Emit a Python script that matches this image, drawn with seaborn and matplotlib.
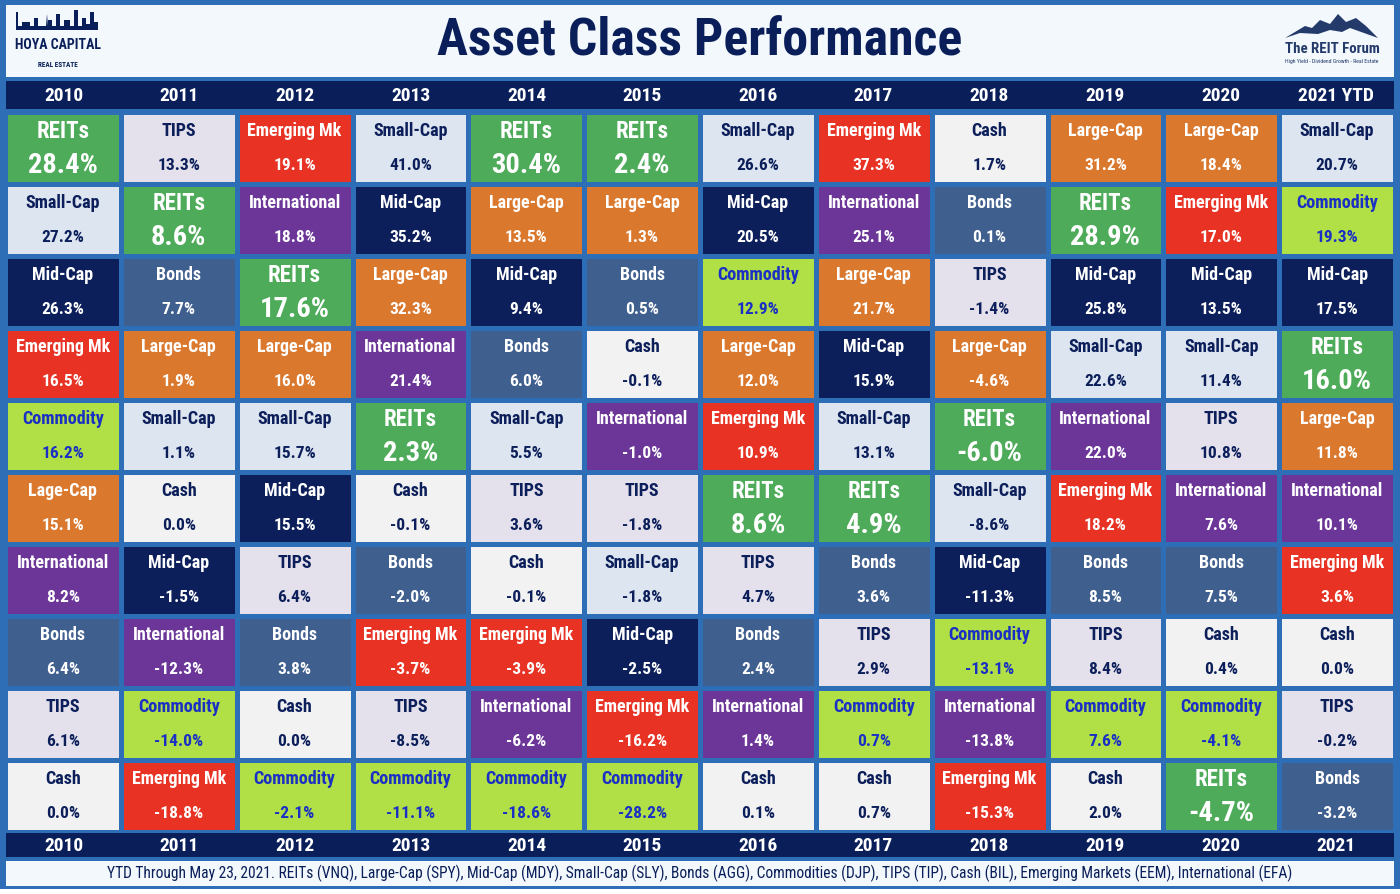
import numpy as np
import pandas as pd
import matplotlib
matplotlib.use("Agg")
import matplotlib.pyplot as plt
from matplotlib.colors import ListedColormap
from matplotlib import font_manager
import seaborn as sns

# ---------------- data ----------------
years = ["2010", "2011", "2012", "2013", "2014", "2015",
         "2016", "2017", "2018", "2019", "2020", "2021 YTD"]
footer_years = ["2010", "2011", "2012", "2013", "2014", "2015",
                "2016", "2017", "2018", "2019", "2020", "2021"]

assets_by_year = [
    ["REITs", "Small-Cap", "Mid-Cap", "Emerging Mk", "Commodity", "Lage-Cap", "International", "Bonds", "TIPS", "Cash"],
    ["TIPS", "REITs", "Bonds", "Large-Cap", "Small-Cap", "Cash", "Mid-Cap", "International", "Commodity", "Emerging Mk"],
    ["Emerging Mk", "International", "REITs", "Large-Cap", "Small-Cap", "Mid-Cap", "TIPS", "Bonds", "Cash", "Commodity"],
    ["Small-Cap", "Mid-Cap", "Large-Cap", "International", "REITs", "Cash", "Bonds", "Emerging Mk", "TIPS", "Commodity"],
    ["REITs", "Large-Cap", "Mid-Cap", "Bonds", "Small-Cap", "TIPS", "Cash", "Emerging Mk", "International", "Commodity"],
    ["REITs", "Large-Cap", "Bonds", "Cash", "International", "TIPS", "Small-Cap", "Mid-Cap", "Emerging Mk", "Commodity"],
    ["Small-Cap", "Mid-Cap", "Commodity", "Large-Cap", "Emerging Mk", "REITs", "TIPS", "Bonds", "International", "Cash"],
    ["Emerging Mk", "International", "Large-Cap", "Mid-Cap", "Small-Cap", "REITs", "Bonds", "TIPS", "Commodity", "Cash"],
    ["Cash", "Bonds", "TIPS", "Large-Cap", "REITs", "Small-Cap", "Mid-Cap", "Commodity", "International", "Emerging Mk"],
    ["Large-Cap", "REITs", "Mid-Cap", "Small-Cap", "International", "Emerging Mk", "Bonds", "TIPS", "Commodity", "Cash"],
    ["Large-Cap", "Emerging Mk", "Mid-Cap", "Small-Cap", "TIPS", "International", "Bonds", "Cash", "Commodity", "REITs"],
    ["Small-Cap", "Commodity", "Mid-Cap", "REITs", "Large-Cap", "International", "Emerging Mk", "Cash", "TIPS", "Bonds"],
]
returns_by_year = [
    [28.4, 27.2, 26.3, 16.5, 16.2, 15.1, 8.2, 6.4, 6.1, 0.0],
    [13.3, 8.6, 7.7, 1.9, 1.1, 0.0, -1.5, -12.3, -14.0, -18.8],
    [19.1, 18.8, 17.6, 16.0, 15.7, 15.5, 6.4, 3.8, 0.0, -2.1],
    [41.0, 35.2, 32.3, 21.4, 2.3, -0.1, -2.0, -3.7, -8.5, -11.1],
    [30.4, 13.5, 9.4, 6.0, 5.5, 3.6, -0.1, -3.9, -6.2, -18.6],
    [2.4, 1.3, 0.5, -0.1, -1.0, -1.8, -1.8, -2.5, -16.2, -28.2],
    [26.6, 20.5, 12.9, 12.0, 10.9, 8.6, 4.7, 2.4, 1.4, 0.1],
    [37.3, 25.1, 21.7, 15.9, 13.1, 4.9, 3.6, 2.9, 0.7, 0.7],
    [1.7, 0.1, -1.4, -4.6, -6.0, -8.6, -11.3, -13.1, -13.8, -15.3],
    [31.2, 28.9, 25.8, 22.6, 22.0, 18.2, 8.5, 8.4, 7.6, 2.0],
    [18.4, 17.0, 13.5, 11.4, 10.8, 7.6, 7.5, 0.4, -4.1, -4.7],
    [20.7, 19.3, 17.5, 16.0, 11.8, 10.1, 3.6, 0.0, -0.2, -3.2],
]

asset_classes = ["REITs", "Large-Cap", "Mid-Cap", "Small-Cap", "Emerging Mk",
                 "International", "Bonds", "TIPS", "Cash", "Commodity"]
fill_colors = ["#4EAB5A", "#DA782E", "#0C1F5A", "#DDE5F0", "#E73224",
               "#6B3698", "#3F5F8E", "#E4E1EC", "#F2F2F2", "#B1E046"]
text_colors = ["white", "white", "white", "#0C1F5A", "white",
               "white", "white", "#0C1F5A", "#0C1F5A", "#1A2FC4"]
label_aliases = {"Lage-Cap": "Large-Cap"}

title = "Asset Class Performance"
note = ("YTD Through May 23, 2021. REITs (VNQ), Large-Cap (SPY), Mid-Cap (MDY), "
        "Small-Cap (SLY), Bonds (AGG), Commodities (DJP), TIPS (TIP), Cash (BIL), "
        "Emerging Markets (EEM), International (EFA)")

# ---------------- style ----------------
BORDER = "#2E6EB6"
NAVY = "#0A1F5A"
PANEL = "#F3F8FC"

sns.set_theme(style="white")

# choose a condensed font if one is installed
ttf = font_manager.fontManager.ttflist
names = {f.name for f in ttf}
FAMILY, STRETCH = None, "normal"
for cand in ["Roboto Condensed", "Liberation Sans Narrow", "Open Sans Condensed",
             "Noto Sans Condensed", "DejaVu Sans Condensed", "Noto Sans Display Condensed"]:
    if cand in names:
        FAMILY = cand
        break
if FAMILY is None:
    for f in ttf:
        if "Condensed" in f.name or "Narrow" in f.name:
            FAMILY = f.name
            break
if FAMILY is None:
    for f in ttf:
        if f.stretch in ("condensed", "semi-condensed", "extra-condensed") and \
                f.name in ("DejaVu Sans", "Noto Sans", "Roboto", "Open Sans", "Lato"):
            FAMILY, STRETCH = f.name, "condensed"
            break
if FAMILY is None:
    FAMILY = "Roboto" if "Roboto" in names else "DejaVu Sans"
plt.rcParams["font.family"] = [FAMILY, "DejaVu Sans"]
plt.rcParams["font.stretch"] = STRETCH

W, H = 1400, 894
fig = plt.figure(figsize=(W / 100, H / 100), dpi=100)
fig.patch.set_facecolor(BORDER)


def add_box(x0, y0, x1, y1, color=None):
    ax = fig.add_axes([x0 / W, 1 - y1 / H, (x1 - x0) / W, (y1 - y0) / H])
    ax.set_xlim(x0, x1)
    ax.set_ylim(y1, y0)
    ax.set_xticks([])
    ax.set_yticks([])
    for s in ax.spines.values():
        s.set_visible(False)
    if color is None:
        ax.patch.set_alpha(0)
    else:
        ax.set_facecolor(color)
    return ax


fits = []  # (text, target width px, exact?)

# title panel
ax_t = add_box(6, 5, 1394, 77, PANEL)
t = ax_t.text(700, 41, title, ha="center", va="center", fontsize=37,
              fontweight="bold", color=NAVY)
fits.append((t, 526, True))

# left logo: skyline + text
sky_x = [16, 16, 18, 18, 22, 22, 30, 30, 34, 34, 38, 38, 46, 47, 48, 48, 52, 52,
         56, 56, 60, 60, 64, 64, 70, 70, 74, 74, 78, 78, 82, 82, 86, 86, 90, 90, 94, 94, 98, 98]
sky_y = [30, 12, 12, 26, 26, 22, 22, 26, 26, 18, 18, 26, 26, 14, 26, 20, 20, 26,
         26, 14, 14, 26, 26, 20, 20, 26, 26, 10, 10, 26, 26, 18, 18, 24, 24, 12, 12, 22, 22, 30]
ax_t.fill(sky_x, sky_y, color=NAVY, lw=0)
t = ax_t.text(58, 45, "HOYA CAPITAL", ha="center", va="center", fontsize=20,
              fontweight="bold", color=NAVY)
fits.append((t, 86, True))
t = ax_t.text(58, 65, "REAL ESTATE", ha="center", va="center", fontsize=8,
              fontweight="bold", color=NAVY)
fits.append((t, 40, True))

# right logo: mountain + text
mx = [1285, 1305, 1312, 1320, 1330, 1338, 1346, 1356, 1366, 1378, 1350, 1342, 1330, 1318, 1300]
my = [38, 26, 28, 20, 24, 14, 22, 18, 26, 38, 28, 32, 30, 34, 33]
ax_t.fill(mx, my, color="#233A6B", lw=0)
t = ax_t.text(1332, 49, "The REIT Forum", ha="center", va="center", fontsize=12,
              fontweight="bold", color="#233A6B")
fits.append((t, 95, True))
t = ax_t.text(1332, 62, "High Yield - Dividend Growth - Real Estate", ha="center",
              va="center", fontsize=5, color="#233A6B")
fits.append((t, 95, True))

# header band
ax_h = add_box(6, 81, 1394, 109, NAVY)
ax_h.set_xlim(0, len(years))
for i, y in enumerate(years):
    ax_h.text(i + 0.5, 96, y, ha="center", va="center", fontsize=14,
              fontweight="bold", color="white")

# footer band
ax_f = add_box(6, 833, 1394, 857, NAVY)
ax_f.set_xlim(0, len(footer_years))
for i, y in enumerate(footer_years):
    ax_f.text(i + 0.5, 846, y, ha="center", va="center", fontsize=14,
              fontweight="bold", color="white")

# note panel
ax_n = add_box(6, 861, 1394, 886, PANEL)
t = ax_n.text(700, 873, note, ha="center", va="center", fontsize=11.5, color=NAVY)
fits.append((t, 1195, False))

# bottom white strip
add_box(0, 889, 1400, 894, "white")

# ---------------- quilt (heatmap) ----------------
n_rows = len(assets_by_year[0])
codes = np.zeros((n_rows, len(years)), dtype=int)
for j, col in enumerate(assets_by_year):
    for i, lab in enumerate(col):
        codes[i, j] = asset_classes.index(label_aliases.get(lab, lab))
code_df = pd.DataFrame(codes, columns=years)

ax = fig.add_axes([5 / W, 1 - 832 / H, 1390 / W, 720 / H])
sns.heatmap(code_df, ax=ax, cmap=ListedColormap(fill_colors),
            vmin=-0.5, vmax=len(asset_classes) - 0.5, cbar=False,
            linewidths=2.3, linecolor=BORDER,
            xticklabels=False, yticklabels=False)
ax.set_xlabel("")
ax.set_ylabel("")

for j, (col, vals) in enumerate(zip(assets_by_year, returns_by_year)):
    for i, (lab, v) in enumerate(zip(col, vals)):
        k = codes[i, j]
        tc = text_colors[k]
        big = asset_classes[k] == "REITs"
        t1 = ax.text(j + 0.5, i + 0.27, lab, ha="center", va="center",
                     fontsize=16.5 if big else 13, fontweight="bold", color=tc)
        t2 = ax.text(j + 0.5, i + 0.745, f"{v:.1f}%", ha="center",
                     va="center", fontsize=20.5 if big else 12.5, fontweight="bold", color=tc)
        fits.append((t1, 100, False))
        fits.append((t2, 100, False))

# fit text widths to the space they occupy in the reference
fig.canvas.draw()
renderer = fig.canvas.get_renderer()
for t, target, exact in fits:
    w = t.get_window_extent(renderer).width
    if w > 0 and (exact or w > target):
        t.set_fontsize(t.get_fontsize() * target / w)

fig.savefig("out.png", dpi=100, facecolor=fig.get_facecolor())
